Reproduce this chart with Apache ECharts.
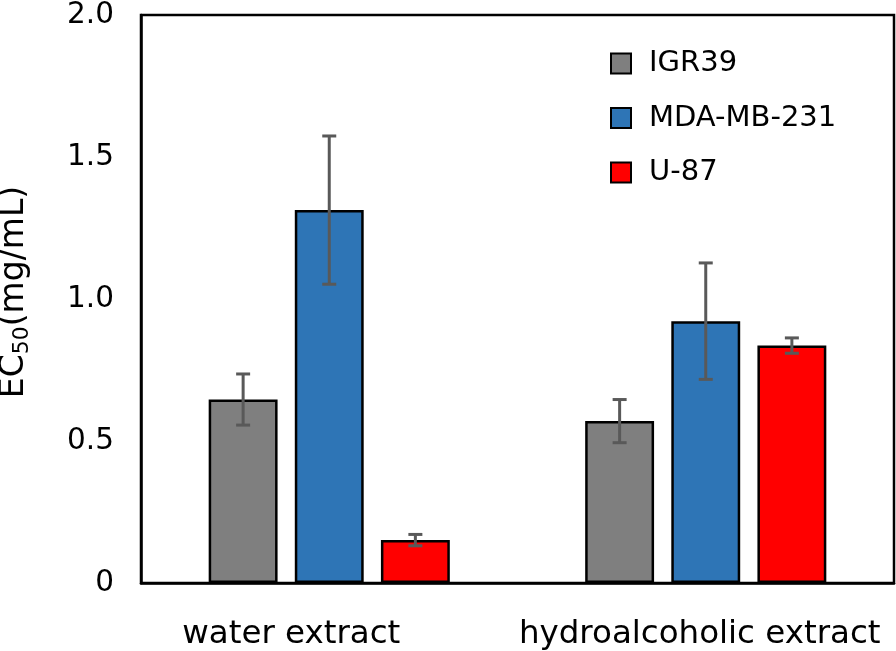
<!DOCTYPE html>
<html>
<head>
<meta charset="utf-8">
<script src="https://cdn.jsdelivr.net/npm/echarts@6/dist/echarts.min.js"></script>
<style>
html,body{margin:0;padding:0;background:#fff;}
#chart{width:896px;height:651px;}
</style>
</head>
<body>
<div id="chart"></div>
<script>
const categories = ['water extract', 'hydroalcoholic extract'];
const seriesNames = ['IGR39', 'MDA-MB-231', 'U-87'];
const igr39 = [0.646, 0.570];
const igr39Err = [0.090, 0.076];
const mda = [1.313, 0.922];
const mdaErr = [0.261, 0.205];
const u87 = [0.151, 0.836];
const u87Err = [0.020, 0.027];
const yTicks = [0, 0.5, 1.0, 1.5, 2.0];

const colors = ['#7f7f7f', '#2e75b6', '#ff0000'];
const values = [igr39, mda, u87];
const errs = [igr39Err, mdaErr, u87Err];
const BAR_FRAC = 0.183;
const GAP_FRAC = 0.25;

const font = 'DejaVu Sans';

const errData = [];
values.forEach((vals, s) => {
  vals.forEach((v, i) => errData.push([i, v, errs[s][i], s]));
});

const chart = echarts.init(document.getElementById('chart'));
const barSeries = seriesNames.map((name, s) => ({
  name: name,
  type: 'bar',
  data: values[s],
  barWidth: (BAR_FRAC * 100) + '%',
  barGap: (GAP_FRAC * 100) + '%',
  itemStyle: { color: colors[s], borderColor: '#000', borderWidth: 2.5 },
  emphasis: { disabled: true },
  z: 2
}));

const labelStyle = { fontFamily: font, fontSize: 32.5, color: '#000' };

const option = {
  animation: false,
  backgroundColor: '#fff',
  grid: {
    left: 141, right: 2, top: 15, bottom: 68,
    containLabel: false,
    outerBoundsMode: 'none',
    show: true, borderColor: '#000', borderWidth: 2.5, backgroundColor: 'transparent'
  },
  legend: {
    orient: 'vertical',
    left: 610,
    top: 49,
    padding: 0,
    itemWidth: 20,
    itemHeight: 20,
    itemGap: 25.5,
    icon: 'rect',
    data: seriesNames,
    textStyle: { fontFamily: font, fontSize: 29, color: '#000', lineHeight: 20, padding: [0, 0, 0, 13] },
    itemStyle: { borderColor: '#000', borderWidth: 2 }
  },
  xAxis: {
    type: 'category',
    data: categories,
    axisLine: { show: true, lineStyle: { color: '#000', width: 2.5 } },
    axisTick: { show: false },
    axisLabel: {
      color: '#000', margin: 35, interval: 0, hideOverlap: false,
      formatter: (v, i) => (i === 0 ? '{w|' + v + '}' : '{h|' + v + '}'),
      rich: {
        w: Object.assign({ padding: [0, 76, 0, 0] }, labelStyle),
        h: Object.assign({ padding: [0, 12, 0, 0] }, labelStyle)
      }
    },
    splitLine: { show: false }
  },
  yAxis: {
    type: 'value',
    min: 0, max: 2, interval: 0.5,
    axisLine: { show: true, lineStyle: { color: '#000', width: 2.5 } },
    axisTick: { show: false },
    splitLine: { show: false },
    axisLabel: {
      fontFamily: font, fontSize: 29.5, color: '#000', margin: 27,
      formatter: v => {
        const t = yTicks.find(k => Math.abs(k - v) < 1e-9);
        if (t === undefined) return '';
        return t === 0 ? '0' : t.toFixed(1);
      }
    },
    name: '{a|EC}{b|50}{a|(mg/mL)}',
    nameLocation: 'middle',
    nameRotate: 90,
    nameGap: 108,
    nameTextStyle: {
      padding: [0, 0, 0, 14],
      rich: {
        a: { fontFamily: font, fontSize: 33, color: '#000' },
        b: { fontFamily: font, fontSize: 22, color: '#000', padding: [16, 0, 0, 0] }
      }
    }
  },
  series: barSeries.concat([{
    type: 'custom',
    name: 'err',
    data: errData,
    z: 5,
    silent: true,
    renderItem: function (params, api) {
      const ci = api.value(0);
      const v = api.value(1);
      const e = api.value(2);
      const s = api.value(3);
      const band = api.size([1, 0])[0];
      const bw = band * BAR_FRAC;
      const step = bw * (1 + GAP_FRAC);
      const c = api.coord([ci, v]);
      const x = c[0] + (s - 1) * step;
      const hi = api.coord([ci, v + e])[1];
      const lo = api.coord([ci, v - e])[1];
      const cap = 7;
      const st = { stroke: '#595959', lineWidth: 3 };
      return {
        type: 'group',
        children: [
          { type: 'line', shape: { x1: x, y1: hi, x2: x, y2: lo }, style: st },
          { type: 'line', shape: { x1: x - cap, y1: hi, x2: x + cap, y2: hi }, style: st },
          { type: 'line', shape: { x1: x - cap, y1: lo, x2: x + cap, y2: lo }, style: st }
        ]
      };
    }
  }])
};
chart.setOption(option);
</script>
</body>
</html>
